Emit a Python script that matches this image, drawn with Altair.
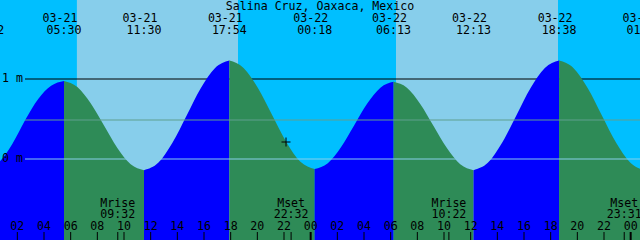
import altair as alt
import pandas as pd

# visible time window (hours from 03-21 00:00)
H_START, H_END = 0.7, 48.7
Y_MIN, Y_MAX = -1.0125, 1.9875

# tide curve samples (hours, metres)
tide_hours = [-0.30, 0.667, 1.633, 2.60, 3.567, 4.533,
              5.50, 6.5, 7.5, 8.5, 9.5, 10.5,
              11.5, 12.567, 13.633, 14.7, 15.767, 16.833,
              17.9, 18.967, 20.033, 21.1, 22.167, 23.233,
              24.3, 25.286, 26.272, 27.258, 28.244, 29.231,
              30.217, 31.217, 32.217, 33.217, 34.217, 35.217,
              36.217, 37.286, 38.356, 39.425, 40.494, 41.564,
              42.633, 43.703, 44.772, 45.842, 46.911, 47.981,
              49.0]
tide_meters = [-0.13, -0.035, 0.19, 0.49, 0.75, 0.915,
               0.975, 0.900, 0.696, 0.418, 0.139, -0.065,
               -0.14, -0.048, 0.203, 0.545, 0.888, 1.138,
               1.23, 1.139, 0.891, 0.553, 0.214, -0.034,
               -0.125, -0.052, 0.148, 0.42, 0.693, 0.892,
               0.965, 0.891, 0.689, 0.413, 0.136, -0.066,
               -0.14, -0.048, 0.203, 0.545, 0.888, 1.138,
               1.23, 1.138, 0.888, 0.545, 0.203, -0.048,
               -0.14]

# high / low tide events (the first date falls outside the picture)
extreme_hours = [-0.30, 5.50, 11.5, 17.9, 24.3, 30.217, 36.217, 42.633, 49.0]
extreme_dates = ["", "03-21", "03-21", "03-21", "03-22", "03-22", "03-22", "03-22", "03-23"]
extreme_times = ["23:42", "05:30", "11:30", "17:54", "00:18", "06:13", "12:13", "18:38", "01:00"]

# sun
sunrise_hours = [6.467, 30.4]
sunset_hours = [18.55, 42.55]

# moon
moon_hours = [9.533, 22.533, 34.367, 47.517]
moon_names = ["Mrise", "Mset", "Mrise", "Mset"]
moon_times = ["09:32", "22:32", "10:22", "23:31"]

# hour ticks
tick_hours = list(range(2, 49, 2))
tick_labels = ["02", "04", "06", "08", "10", "12", "14", "16", "18", "20", "22", "00",
               "02", "04", "06", "08", "10", "12", "14", "16", "18", "20", "22", "00"]

# level lines
level_labels = ["1 m", "0 m"]
level_values = [1.0, 0.0]
mid_level = 0.4875

# current time marker
now_hour, now_meters = 22.15, 0.2125

title_text = "Salina Cruz, Oaxaca, Mexico"

FONT = "DejaVu Sans Mono"
FS = 11.6

xs = alt.Scale(domain=[H_START, H_END], nice=False, zero=False)
ys = alt.Scale(domain=[Y_MIN, Y_MAX], nice=False, zero=False)

# build tide segments (rising / falling)
rows = []
for i in range(len(extreme_hours) - 1):
    a, b = extreme_hours[i], extreme_hours[i + 1]
    seg = [(t, m) for t, m in zip(tide_hours, tide_meters) if a - 1e-6 <= t <= b + 1e-6]
    d = "rise" if seg[-1][1] > seg[0][1] else "fall"
    for t, m in seg:
        rows.append({"h": t, "m": m, "seg": i, "dir": d, "base": Y_MIN})
tide_df = pd.DataFrame(rows)

night = alt.Chart(pd.DataFrame({"a": [0]})).mark_rect(color="#00bfff").encode(
    x=alt.value(0), x2=alt.value(640), y=alt.value(0), y2=alt.value(240))

day = alt.Chart(pd.DataFrame({"rise": sunrise_hours, "set": sunset_hours})).mark_rect(
    color="#87ceeb").encode(
    x=alt.X("rise:Q", scale=xs, axis=None), x2="set:Q",
    y=alt.value(0), y2=alt.value(240))

one_m = alt.Chart(pd.DataFrame({"m": [1.0]})).mark_rule(color="black", strokeWidth=1).encode(
    x=alt.value(25), x2=alt.value(640), y=alt.Y("m:Q", scale=ys, axis=None))

area = alt.Chart(tide_df).mark_area(interpolate="monotone", clip=True).encode(
    x=alt.X("h:Q", scale=xs, axis=None),
    y=alt.Y("m:Q", scale=ys, axis=None),
    y2="base:Q",
    color=alt.Color("dir:N", scale=alt.Scale(domain=["rise", "fall"],
                                             range=["#0000ff", "#2e8b57"]), legend=None),
    detail="seg:N",
)

mid_line = alt.Chart(pd.DataFrame({"m": [mid_level]})).mark_rule(
    color="#5f9f8f", strokeWidth=1).encode(
    x=alt.value(25), x2=alt.value(640), y=alt.Y("m:Q", scale=ys, axis=None))

zero_line = alt.Chart(pd.DataFrame({"m": [0.0]})).mark_rule(
    color="#87ceeb", strokeWidth=1).encode(
    x=alt.value(25), x2=alt.value(640), y=alt.Y("m:Q", scale=ys, axis=None))

level_text = alt.Chart(pd.DataFrame({"m": level_values, "t": level_labels})).mark_text(
    font=FONT, fontSize=FS, align="left", baseline="middle", color="black").encode(
    x=alt.value(2), y=alt.Y("m:Q", scale=ys, axis=None), text="t:N")

ext_df = pd.DataFrame({"h": extreme_hours, "d": extreme_dates, "t": extreme_times})
date_text = alt.Chart(ext_df).mark_text(
    font=FONT, fontSize=FS, align="center", baseline="alphabetic", dx=-4, color="black").encode(
    x=alt.X("h:Q", scale=xs, axis=None), y=alt.value(22), text="d:N")
time_text = alt.Chart(ext_df).mark_text(
    font=FONT, fontSize=FS, align="center", baseline="alphabetic", color="black").encode(
    x=alt.X("h:Q", scale=xs, axis=None), y=alt.value(34), text="t:N")

title = alt.Chart(pd.DataFrame({"t": [title_text]})).mark_text(
    font=FONT, fontSize=FS, align="center", baseline="alphabetic", color="black").encode(
    x=alt.value(320), y=alt.value(10), text="t:N")

moon_df = pd.DataFrame({"h": moon_hours, "n": moon_names, "t": moon_times})
moon_name = alt.Chart(moon_df).mark_text(
    font=FONT, fontSize=FS, align="center", baseline="alphabetic", color="black").encode(
    x=alt.X("h:Q", scale=xs, axis=None), y=alt.value(207), text="n:N")
moon_time = alt.Chart(moon_df).mark_text(
    font=FONT, fontSize=FS, align="center", baseline="alphabetic", color="black").encode(
    x=alt.X("h:Q", scale=xs, axis=None), y=alt.value(218), text="t:N")
moon_tick = alt.Chart(moon_df).mark_rule(color="black", strokeWidth=1).encode(
    x=alt.X("h:Q", scale=xs, axis=None), y=alt.value(232), y2=alt.value(240))

tick_df = pd.DataFrame({"h": tick_hours, "t": tick_labels,
                        "w": [2 if h % 24 == 0 else 1 for h in tick_hours]})
ticks = alt.Chart(tick_df).mark_rule(color="black").encode(
    x=alt.X("h:Q", scale=xs, axis=None), y=alt.value(232), y2=alt.value(240),
    strokeWidth=alt.StrokeWidth("w:Q", scale=None, legend=None))
tick_text = alt.Chart(tick_df).mark_text(
    font=FONT, fontSize=FS, align="center", baseline="alphabetic", color="black").encode(
    x=alt.X("h:Q", scale=xs, axis=None), y=alt.value(230), text="t:N")

now_mark = alt.Chart(pd.DataFrame({"h": [now_hour], "m": [now_meters]})).mark_point(
    shape="M-1,0L1,0M0,-1L0,1", size=81, stroke="black", strokeWidth=1, filled=False,
    opacity=1).encode(
    x=alt.X("h:Q", scale=xs, axis=None), y=alt.Y("m:Q", scale=ys, axis=None))

chart = alt.layer(
    night, day, one_m, area, mid_line, zero_line, level_text,
    title, date_text, time_text, moon_name, moon_time, moon_tick, ticks, tick_text, now_mark
).properties(
    width=640, height=240,
    autosize=alt.AutoSizeParams(type="none"),
    padding=0,
).configure_view(stroke=None)

chart.save("out.html", embed_options={"renderer": "svg", "actions": False})
